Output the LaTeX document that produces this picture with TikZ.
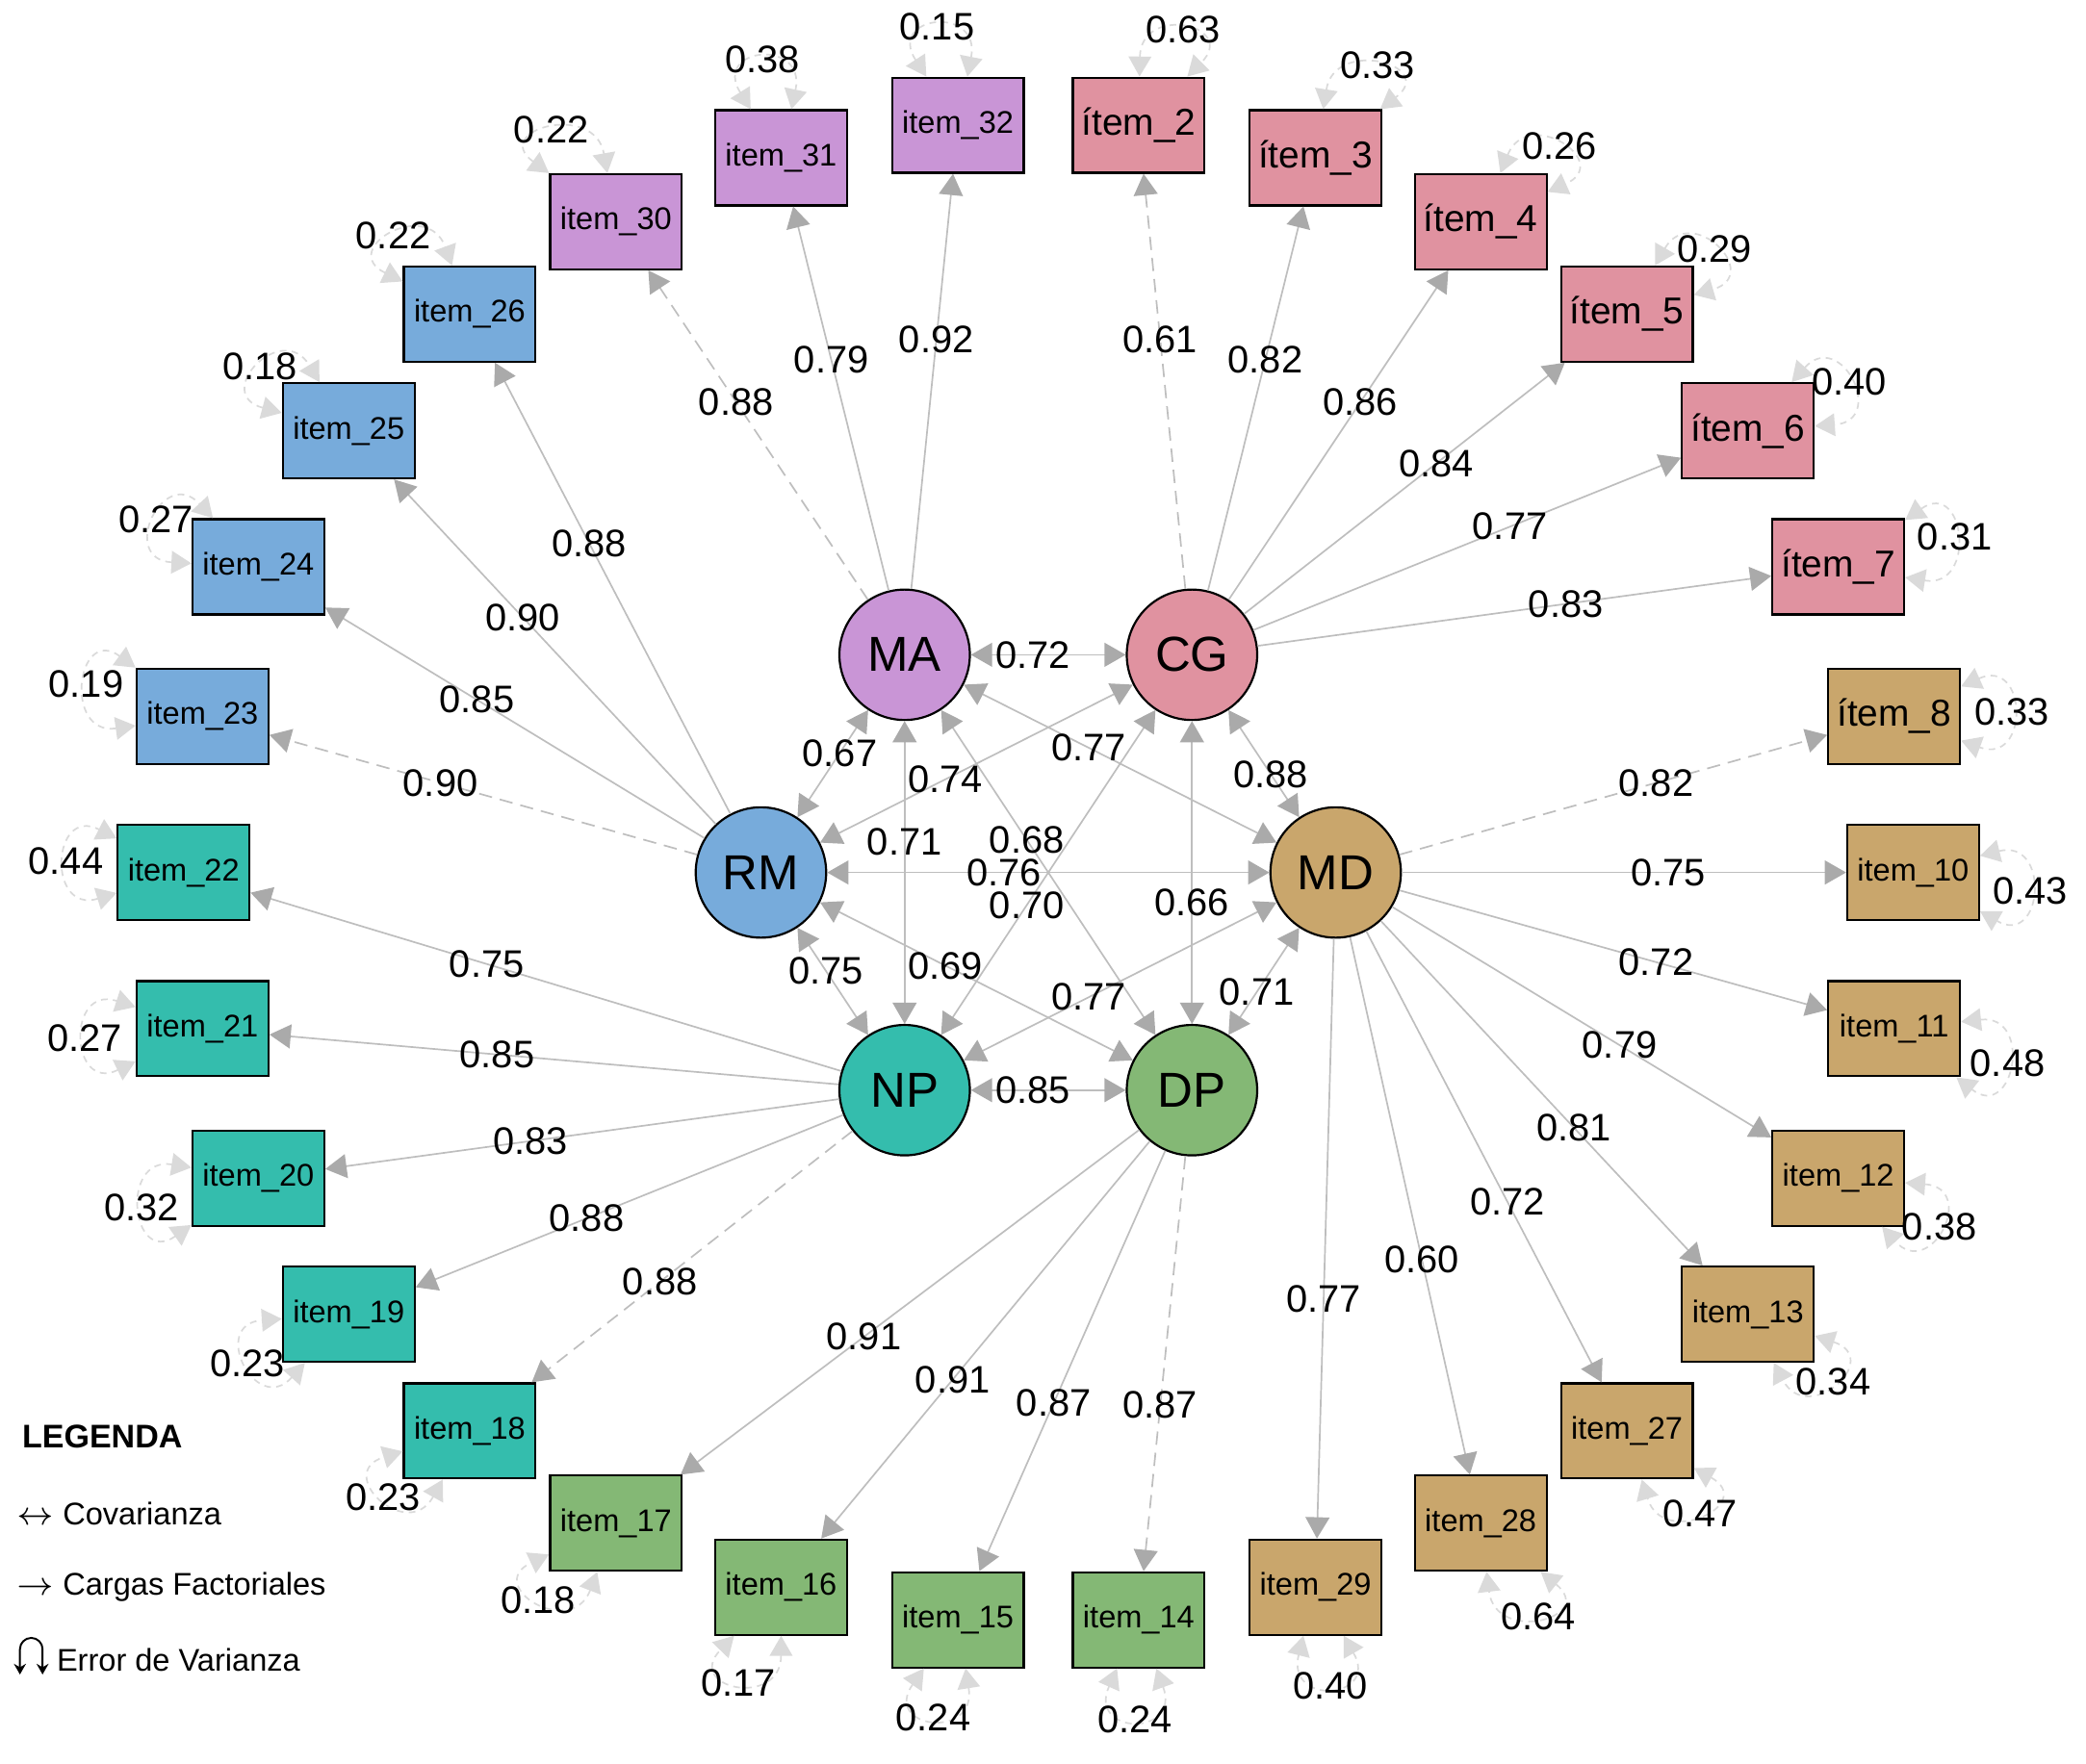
\documentclass[tikz,border=0pt]{standalone}
\usepackage{fontspec}
\setmainfont{Liberation Sans}
\usetikzlibrary{arrows.meta}
\definecolor{moradoMA}{RGB}{201,149,214}
\definecolor{rosaCG}{RGB}{224,146,160}
\definecolor{ocreMD}{RGB}{201,166,108}
\definecolor{verdeDP}{RGB}{132,184,117}
\definecolor{turquesaNP}{RGB}{52,189,173}
\definecolor{azulRM}{RGB}{119,171,219}
\definecolor{grisLinea}{RGB}{190,190,190}
\definecolor{grisPunta}{RGB}{170,170,170}
\definecolor{grisVar}{RGB}{218,218,218}
\newcommand{\fchica}{\fontsize{6.7}{8}\selectfont}
\newcommand{\fgrande}{\fontsize{8}{9.6}\selectfont}
\tikzset{
  latente/.style={circle, draw=black, line width=0.45pt, minimum size=0.98cm,
    inner sep=0pt, font=\fontsize{10.5}{12}\selectfont},
  cajaItem/.style={rectangle, draw=black, line width=0.45pt,
    minimum width=0.99cm, minimum height=0.715cm, inner sep=0pt},
  flecha/.style={-{Triangle[length=1.6mm, width=1.8mm, color=grisPunta]},
    line width=0.35pt, draw=grisLinea},
  flechaCov/.style={{Triangle[length=1.6mm, width=1.8mm, color=grisPunta]}-{Triangle[length=1.6mm, width=1.8mm, color=grisPunta]},
    line width=0.35pt, draw=grisLinea},
  flechaVar/.style={{Triangle[length=1.5mm, width=1.7mm]}-{Triangle[length=1.5mm, width=1.7mm]},
    line width=0.35pt, draw=grisVar, dash pattern=on 0.5mm off 0.4mm},
  punteada/.code={\ifnum#1=1 \tikzset{dash pattern=on 1mm off 0.6mm}\fi},
  etiqueta/.style={font=\fontsize{8.2}{9.8}\selectfont, inner sep=0.5pt},
  leyendaTexto/.style={font=\fontsize{6.7}{8}\selectfont, inner sep=0pt, anchor=west},
}
\begin{document}
\begin{tikzpicture}[x=0.01cm, y=0.01cm]
  \useasboundingbox (-788,-670) rectangle (780,656);
  % factores latentes
  \node[latente, fill=rosaCG] (CG) at (60:216 and 189) {CG};
  \node[latente, fill=moradoMA] (MA) at (120:216 and 189) {MA};
  \node[latente, fill=azulRM] (RM) at (180:216 and 189) {RM};
  \node[latente, fill=turquesaNP] (NP) at (240:216 and 189) {NP};
  \node[latente, fill=verdeDP] (DP) at (300:216 and 189) {DP};
  \node[latente, fill=ocreMD] (MD) at (0:216 and 189) {MD};
  % items observados
  \foreach \ang/\nom/\txt/\col/\fu in {
    0/i10/item\_10/ocreMD/\fchica, 12/i8/ítem\_8/ocreMD/\fgrande,
    24/i7/ítem\_7/rosaCG/\fgrande, 36/i6/ítem\_6/rosaCG/\fgrande,
    48/i5/ítem\_5/rosaCG/\fgrande, 60/i4/ítem\_4/rosaCG/\fgrande,
    72/i3/ítem\_3/rosaCG/\fgrande, 84/i2/ítem\_2/rosaCG/\fgrande,
    96/i32/item\_32/moradoMA/\fchica, 108/i31/item\_31/moradoMA/\fchica,
    120/i30/item\_30/moradoMA/\fchica, 132/i26/item\_26/azulRM/\fchica,
    144/i25/item\_25/azulRM/\fchica, 156/i24/item\_24/azulRM/\fchica,
    168/i23/item\_23/azulRM/\fchica, 180/i22/item\_22/turquesaNP/\fchica,
    192/i21/item\_21/turquesaNP/\fchica, 204/i20/item\_20/turquesaNP/\fchica,
    216/i19/item\_19/turquesaNP/\fchica, 228/i18/item\_18/turquesaNP/\fchica,
    240/i17/item\_17/verdeDP/\fchica, 252/i16/item\_16/verdeDP/\fchica,
    264/i15/item\_15/verdeDP/\fchica, 276/i14/item\_14/verdeDP/\fchica,
    288/i29/item\_29/ocreMD/\fchica, 300/i28/item\_28/ocreMD/\fchica,
    312/i27/item\_27/ocreMD/\fchica, 324/i13/item\_13/ocreMD/\fchica,
    336/i12/item\_12/ocreMD/\fchica, 348/i11/item\_11/ocreMD/\fchica}
    \node[cajaItem, fill=\col, font=\fu] (\nom) at (\ang:650 and 565) {\txt};
  % cargas factoriales
  \foreach \fac/\itm/\val/\pun in {
    MA/i30/0.88/1, MA/i31/0.79/0, MA/i32/0.92/0,
    CG/i2/0.61/1, CG/i3/0.82/0, CG/i4/0.86/0, CG/i5/0.84/0, CG/i6/0.77/0, CG/i7/0.83/0,
    MD/i8/0.82/1, MD/i10/0.75/0, MD/i11/0.72/0, MD/i12/0.79/0, MD/i13/0.81/0,
    MD/i27/0.72/0, MD/i28/0.60/0, MD/i29/0.77/0,
    DP/i14/0.87/1, DP/i15/0.87/0, DP/i16/0.91/0, DP/i17/0.91/0,
    NP/i18/0.88/1, NP/i19/0.88/0, NP/i20/0.83/0, NP/i21/0.85/0, NP/i22/0.75/0,
    RM/i23/0.90/1, RM/i24/0.85/0, RM/i25/0.90/0, RM/i26/0.88/0}
    \draw[flecha, punteada=\pun] (\fac) -- node[etiqueta, pos=0.6] {\val} (\itm);
  % covarianzas
  \foreach \fa/\fb/\val in {MA/CG/0.72, MA/RM/0.67, MA/NP/0.71, MA/DP/0.68, MA/MD/0.77,
    RM/CG/0.74, MD/CG/0.88, NP/CG/0.70, DP/CG/0.66, RM/MD/0.76, RM/NP/0.75,
    RM/DP/0.69, NP/MD/0.77, DP/MD/0.71, NP/DP/0.85}
    \draw[flechaCov] (\fa) -- node[etiqueta, pos=0.4] {\val} (\fb);
  % errores de varianza
  \foreach \nom/\vang/\var [evaluate=\vang as \angA using int(\vang+22),
                            evaluate=\vang as \angB using int(\vang-22)] in {
    i10/-8/0.43, i8/2/0.33, i7/13/0.31, i6/26/0.40, i5/38/0.29, i4/46/0.26,
    i3/59/0.33, i2/67/0.63, i32/101/0.15, i31/100/0.38, i30/122/0.22,
    i26/132/0.22, i25/143/0.18, i24/155/0.27, i23/166/0.19, i22/175/0.44,
    i21/184/0.27, i20/193/0.32, i19/206/0.23, i18/219/0.23, i17/227/0.18,
    i16/248/0.17, i15/257/0.24, i14/268/0.24, i29/278/0.40, i28/299/0.64,
    i27/309/0.47, i13/320/0.34, i12/334/0.38, i11/344/0.48}
    \draw[flechaVar] (\nom.\angA) .. controls +(\angA:55) and +(\angB:55)
      .. node[etiqueta] {\var} (\nom.\angB);
  % leyenda
  \node[leyendaTexto, font=\bfseries\fontsize{7}{8}\selectfont] (leyenda) at (-772,-424) {LEGENDA};
  \node[leyendaTexto] (covLey) at (-776,-482) {$\leftrightarrow$ Covarianza};
  \node[leyendaTexto] (cargaLey) at (-776,-537) {$\rightarrow$ Cargas Factoriales};
  \node[leyendaTexto] (errorLey) at (-746,-592) {Error de Varianza};
  \coordinate (errA) at (-773,-603);
  \coordinate (errB) at (-756,-603);
  \draw[{Stealth[length=0.8mm, width=0.9mm]}-{Stealth[length=0.8mm, width=0.9mm]}, line width=0.4pt]
    (errA) -- ++(0,19) arc[start angle=180, end angle=0, radius=8.5] -- (errB);
\end{tikzpicture}
\end{document}
